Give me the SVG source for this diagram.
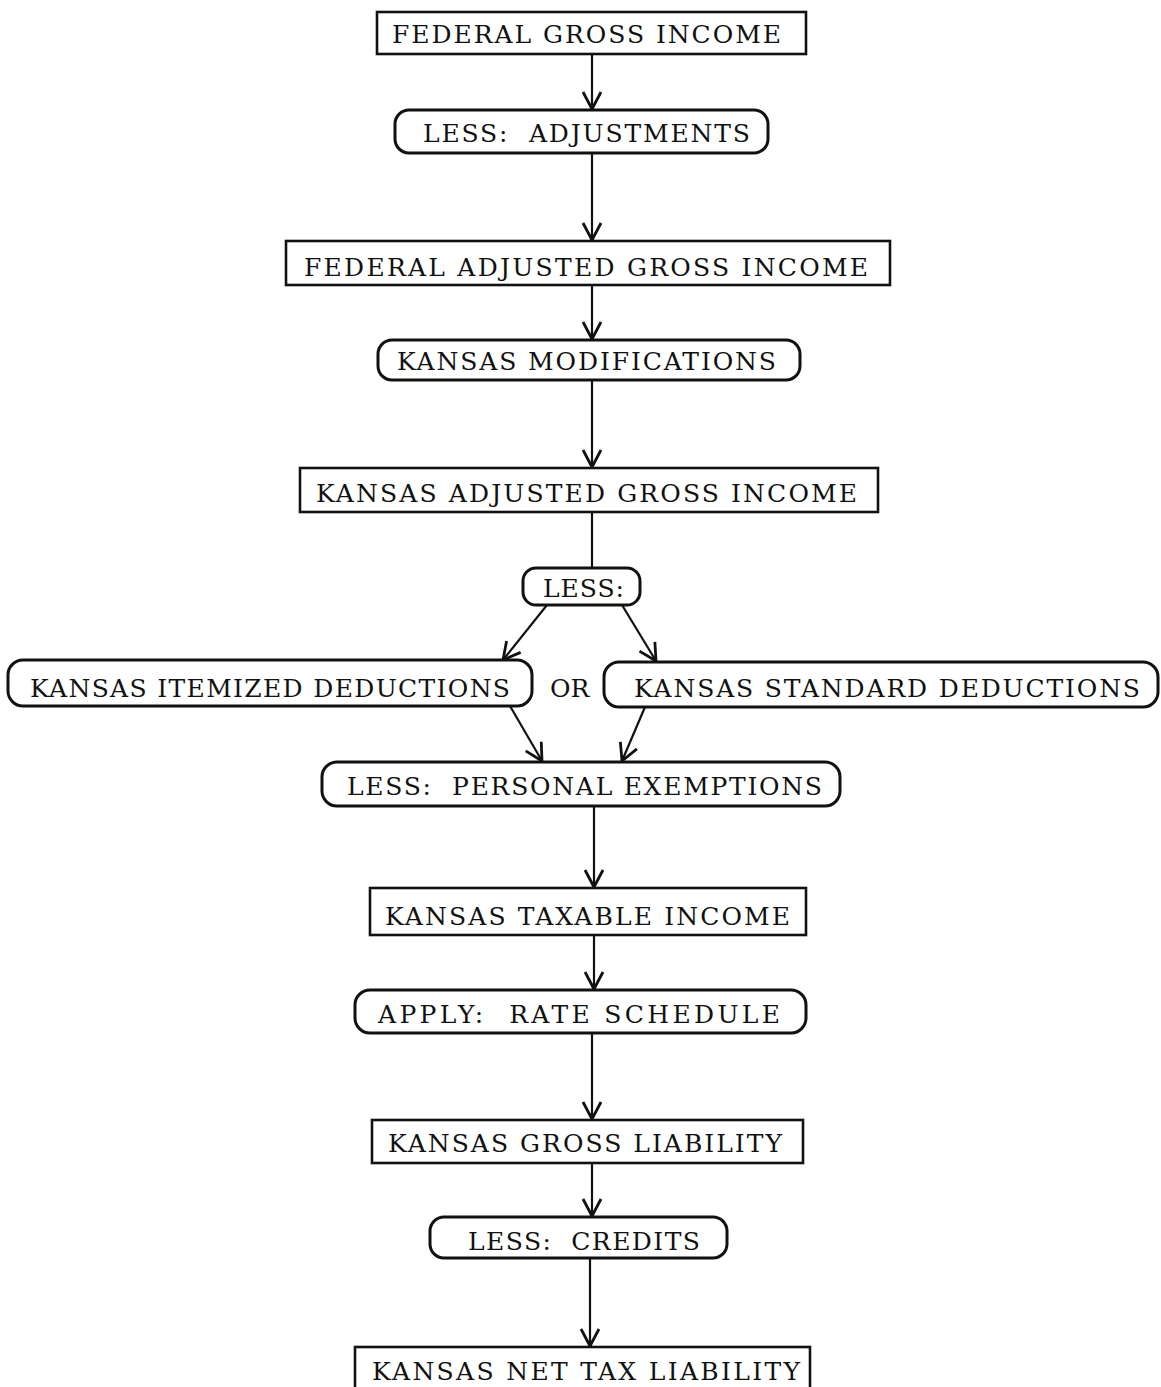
<svg xmlns="http://www.w3.org/2000/svg" width="1161" height="1387" viewBox="0 0 1161 1387">
<defs>
<style>
.box{fill:#fff;stroke:#111;stroke-width:2.6}
.rnd{fill:#fff;stroke:#111;stroke-width:3}
.t{font-family:"DejaVu Serif","Liberation Serif",serif;font-size:25px;fill:#111;white-space:pre}
.c{fill:none;stroke:#111;stroke-width:2.2}
</style>
<marker id="ah" viewBox="0 0 24 24" markerWidth="24" markerHeight="24" refX="21" refY="12" orient="auto" markerUnits="userSpaceOnUse">
<path d="M4,3 L21,12 L4,21" fill="none" stroke="#111" stroke-width="2.8" stroke-linejoin="round"/>
</marker>
</defs>
<rect width="1161" height="1387" fill="#fff"/>
<g id="connectors">
<path class="c" d="M592,54 L592,109" marker-end="url(#ah)"/>
<path class="c" d="M592,153 L592,240" marker-end="url(#ah)"/>
<path class="c" d="M592,285 L592,339" marker-end="url(#ah)"/>
<path class="c" d="M592,380 L592,467" marker-end="url(#ah)"/>
<path class="c" d="M592,512 L592,568"/>
<path class="c" d="M547,605 L503,660" marker-end="url(#ah)"/>
<path class="c" d="M622,605 L656,661" marker-end="url(#ah)"/>
<path class="c" d="M510,706 L542,761" marker-end="url(#ah)"/>
<path class="c" d="M645,707 L622,761" marker-end="url(#ah)"/>
<path class="c" d="M594,806 L594,887" marker-end="url(#ah)"/>
<path class="c" d="M594,935 L594,989" marker-end="url(#ah)"/>
<path class="c" d="M592,1033 L592,1119" marker-end="url(#ah)"/>
<path class="c" d="M592,1163 L592,1216" marker-end="url(#ah)"/>
<path class="c" d="M590,1258 L590,1346" marker-end="url(#ah)"/>
</g>
<g id="n1"><rect class="box" x="377" y="12" width="429" height="42"/><text class="t" x="392" y="43" textLength="389" lengthAdjust="spacing">FEDERAL GROSS INCOME</text></g>
<g id="n2"><rect class="rnd" x="395" y="110" width="373" height="43" rx="14"/><text class="t" x="423" y="142" textLength="327" lengthAdjust="spacing">LESS:  ADJUSTMENTS</text></g>
<g id="n3"><rect class="box" x="286" y="241" width="604" height="44"/><text class="t" x="304" y="276" textLength="564" lengthAdjust="spacing">FEDERAL ADJUSTED GROSS INCOME</text></g>
<g id="n4"><rect class="rnd" x="378" y="340" width="422" height="40" rx="14"/><text class="t" x="397" y="370" textLength="379" lengthAdjust="spacing">KANSAS MODIFICATIONS</text></g>
<g id="n5"><rect class="box" x="300" y="468" width="578" height="44"/><text class="t" x="316" y="502" textLength="541" lengthAdjust="spacing">KANSAS ADJUSTED GROSS INCOME</text></g>
<g id="n6"><rect class="rnd" x="523" y="568" width="117" height="37" rx="13"/><text class="t" x="543" y="597" textLength="81" lengthAdjust="spacing">LESS:</text></g>
<g id="n7"><rect class="rnd" x="8" y="660" width="524" height="46" rx="15"/><text class="t" x="30" y="697" textLength="480" lengthAdjust="spacing">KANSAS ITEMIZED DEDUCTIONS</text></g>
<g id="or"><text class="t" x="550" y="697">OR</text></g>
<g id="n8"><rect class="rnd" x="604" y="662" width="554" height="45" rx="15"/><text class="t" x="634" y="697" textLength="506" lengthAdjust="spacing">KANSAS STANDARD DEDUCTIONS</text></g>
<g id="n9"><rect class="rnd" x="322" y="762" width="518" height="44" rx="15"/><text class="t" x="347" y="795" textLength="475" lengthAdjust="spacing">LESS:  PERSONAL EXEMPTIONS</text></g>
<g id="n10"><rect class="box" x="370" y="888" width="436" height="47"/><text class="t" x="385" y="925" textLength="405" lengthAdjust="spacing">KANSAS TAXABLE INCOME</text></g>
<g id="n11"><rect class="rnd" x="355" y="990" width="451" height="43" rx="15"/><text class="t" x="378" y="1023" textLength="402" lengthAdjust="spacing">APPLY:  RATE SCHEDULE</text></g>
<g id="n12"><rect class="box" x="372" y="1120" width="431" height="43"/><text class="t" x="388" y="1152" textLength="394" lengthAdjust="spacing">KANSAS GROSS LIABILITY</text></g>
<g id="n13"><rect class="rnd" x="430" y="1217" width="297" height="41" rx="14"/><text class="t" x="468" y="1250" textLength="232" lengthAdjust="spacing">LESS:  CREDITS</text></g>
<g id="n14"><rect class="box" x="355" y="1347" width="455" height="50"/><text class="t" x="372" y="1380" textLength="428" lengthAdjust="spacing">KANSAS NET TAX LIABILITY</text></g>
</svg>
